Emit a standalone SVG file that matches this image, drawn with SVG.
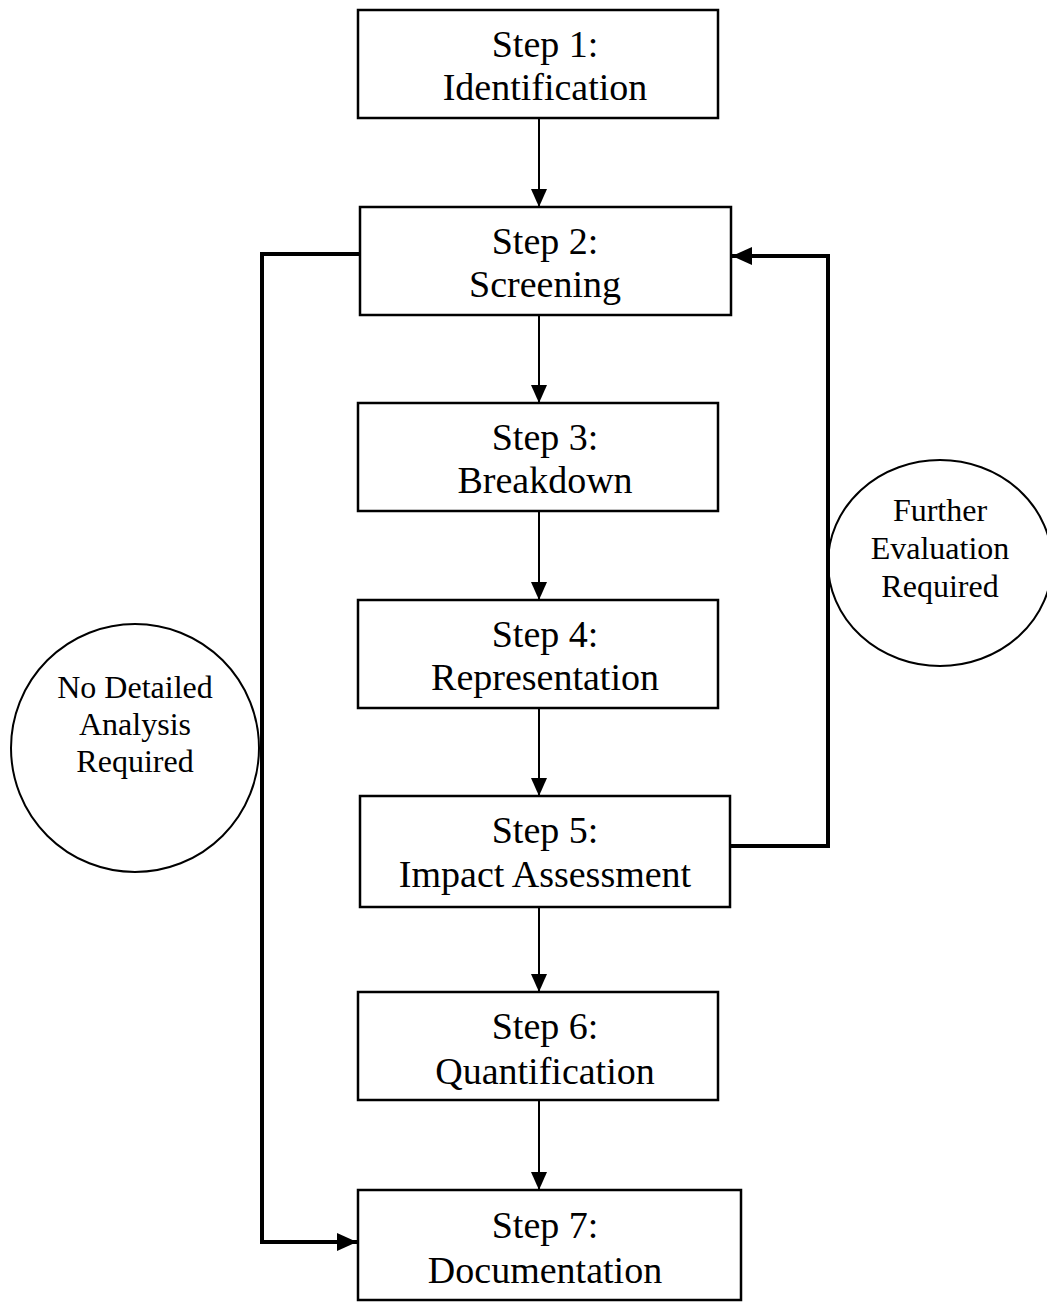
<svg xmlns="http://www.w3.org/2000/svg" width="1047" height="1303" viewBox="0 0 1047 1303">
<defs>
<style>
.box{fill:#fff;stroke:#000;stroke-width:2.5}
.circ{fill:none;stroke:#000;stroke-width:2}
.t{font-family:"Liberation Serif","Times New Roman",serif;font-size:38px;fill:#000;text-anchor:middle}
.c{font-family:"Liberation Serif","Times New Roman",serif;font-size:32px;fill:#000;text-anchor:middle}
.arr{fill:none;stroke:#000;stroke-width:2}
.loop{fill:none;stroke:#000;stroke-width:4;stroke-linejoin:miter}
</style>
<marker id="ah" markerWidth="20" markerHeight="18" refX="20" refY="9" orient="auto" markerUnits="userSpaceOnUse" viewBox="0 0 20 18">
<path d="M0,0 L20,9 L0,18 Z" fill="#000"/>
</marker>
<marker id="ahv" markerWidth="18" markerHeight="16" refX="18" refY="8" orient="auto" markerUnits="userSpaceOnUse" viewBox="0 0 18 16">
<path d="M0,0 L18,8 L0,16 Z" fill="#000"/>
</marker>
</defs>
<rect width="1047" height="1303" fill="#fff"/>
<g id="connectors">
<path class="arr" d="M539,118 V207" marker-end="url(#ahv)"/>
<path class="arr" d="M539,315 V403" marker-end="url(#ahv)"/>
<path class="arr" d="M539,511 V600" marker-end="url(#ahv)"/>
<path class="arr" d="M539,708 V796" marker-end="url(#ahv)"/>
<path class="arr" d="M539,907 V992" marker-end="url(#ahv)"/>
<path class="arr" d="M539,1100 V1190" marker-end="url(#ahv)"/>
<path class="loop" d="M360,254 H262 V1242 H357" marker-end="url(#ah)"/>
<path class="loop" d="M730,846 H828 V256 H732" marker-end="url(#ah)"/>
</g>
<g id="step1"><rect class="box" x="358" y="10" width="360" height="108"/><text class="t" x="545" y="57">Step 1:</text><text class="t" x="545" y="100">Identification</text></g>
<g id="step2"><rect class="box" x="360" y="207" width="371" height="108"/><text class="t" x="545" y="254">Step 2:</text><text class="t" x="545" y="297">Screening</text></g>
<g id="step3"><rect class="box" x="358" y="403" width="360" height="108"/><text class="t" x="545" y="450">Step 3:</text><text class="t" x="545" y="493">Breakdown</text></g>
<g id="step4"><rect class="box" x="358" y="600" width="360" height="108"/><text class="t" x="545" y="647">Step 4:</text><text class="t" x="545" y="690">Representation</text></g>
<g id="step5"><rect class="box" x="360" y="796" width="370" height="111"/><text class="t" x="545" y="843">Step 5:</text><text class="t" x="545" y="887">Impact Assessment</text></g>
<g id="step6"><rect class="box" x="358" y="992" width="360" height="108"/><text class="t" x="545" y="1039">Step 6:</text><text class="t" x="545" y="1084">Quantification</text></g>
<g id="step7"><rect class="box" x="358" y="1190" width="383" height="110"/><text class="t" x="545" y="1238">Step 7:</text><text class="t" x="545" y="1283">Documentation</text></g>
<g id="no-detailed"><circle class="circ" cx="135" cy="748" r="124"/><text class="c" x="135" y="698">No Detailed</text><text class="c" x="135" y="735">Analysis</text><text class="c" x="135" y="772">Required</text></g>
<g id="further-eval"><ellipse class="circ" cx="940" cy="563" rx="112" ry="103"/><text class="c" x="940" y="521">Further</text><text class="c" x="940" y="559">Evaluation</text><text class="c" x="940" y="597">Required</text></g>
</svg>
